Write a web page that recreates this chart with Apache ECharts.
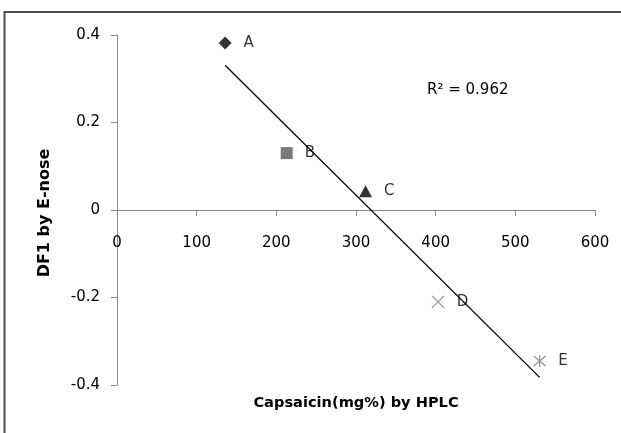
<!DOCTYPE html>
<html>
<head>
<meta charset="utf-8">
<script src="https://cdn.jsdelivr.net/npm/echarts@6/dist/echarts.min.js"></script>
<style>
  html, body { margin: 0; padding: 0; background: #ffffff; }
  #chart { width: 621px; height: 433px; }
</style>
</head>
<body>
<div id="chart"></div>
<script>
// Samples: capsaicin content (HPLC) vs. first discriminant score (E-nose)
const sampleNames = ['A', 'B', 'C', 'D', 'E'];
const capsaicin = [135.7, 213, 312, 403, 530.5];
const df1 = [0.382, 0.130, 0.043, -0.210, -0.345];
const xTicks = [0, 100, 200, 300, 400, 500, 600];
const yTicks = [-0.4, -0.2, 0, 0.2, 0.4];
const r2Text = 'R² = 0.962';

// marker style for each sample
const markerShapes = [
  'diamond',
  'rect',
  'triangle',
  'path://M0,0L10,10M10,0L0,10',
  'path://M0,0L10,10M10,0L0,10M5,-1L5,11'
];
const markerColors = ['#000000', '#595959', '#000000', '#7a7a7a', '#7a7a7a'];

// least-squares fit through the samples
function linearFit(xs, ys) {
  const n = xs.length;
  const mx = xs.reduce((a, b) => a + b, 0) / n;
  const my = ys.reduce((a, b) => a + b, 0) / n;
  let sxy = 0, sxx = 0;
  for (let i = 0; i < n; i++) {
    sxy += (xs[i] - mx) * (ys[i] - my);
    sxx += (xs[i] - mx) * (xs[i] - mx);
  }
  const slope = sxy / sxx;
  return { slope: slope, intercept: my - slope * mx };
}
const fit = linearFit(capsaicin, df1);
const xLo = Math.min.apply(null, capsaicin);
const xHi = Math.max.apply(null, capsaicin);
const trend = [
  [xLo, fit.intercept + fit.slope * xLo],
  [xHi, fit.intercept + fit.slope * xHi]
];

const font = 'DejaVu Sans';
const gridTop = 35, gridHeight = 350;
const yMin = yTicks[0], yMax = yTicks[yTicks.length - 1];
// shift the category axis up so it crosses the y axis at zero
const xAxisOffset = -gridHeight * (0 - yMin) / (yMax - yMin);

const sampleSeries = sampleNames.map(function (name, i) {
  const isStroke = i >= 3;
  return {
    type: 'scatter',
    name: name,
    data: [[capsaicin[i], df1[i]]],
    symbol: markerShapes[i],
    symbolSize: i === 0 ? 13 : (i === 2 ? [13, 12] : 12),
    itemStyle: isStroke
      ? { color: 'rgba(0,0,0,0)', borderColor: markerColors[i], borderWidth: 1.3 }
      : { color: markerColors[i] },
    label: {
      show: true,
      position: 'right',
      distance: 12,
      formatter: name,
      color: '#000',
      fontFamily: font,
      fontSize: 15
    },
    z: 3
  };
});

const chart = echarts.init(document.getElementById('chart'), null, { renderer: 'canvas' });
chart.setOption({
  animation: false,
  backgroundColor: '#ffffff',
  grid: { left: 117, top: gridTop, width: 478, height: gridHeight, containLabel: false },
  xAxis: {
    type: 'value',
    position: 'bottom',
    offset: xAxisOffset,
    min: xTicks[0], max: xTicks[xTicks.length - 1], interval: 100,
    axisLine: { onZero: false, lineStyle: { color: '#8a8a8a', width: 1 } },
    axisTick: { show: true, inside: false, length: 6, lineStyle: { color: '#8a8a8a' } },
    axisLabel: {
      margin: 26, color: '#000', fontFamily: font, fontSize: 15
    },
    splitLine: { show: false }
  },
  yAxis: {
    type: 'value',
    min: yMin, max: yMax, interval: 0.2,
    axisLine: { onZero: false, lineStyle: { color: '#8a8a8a', width: 1 } },
    axisTick: { show: true, inside: false, length: 6, lineStyle: { color: '#8a8a8a' } },
    axisLabel: {
      margin: 17, color: '#000', fontFamily: font, fontSize: 15,
      formatter: function (v) { return String(Math.round(v * 10) / 10); }
    },
    splitLine: { show: false }
  },
  series: [
    {
      type: 'line',
      data: trend,
      symbol: 'none',
      lineStyle: { color: '#000', width: 1.3 },
      z: 2,
      silent: true
    }
  ].concat(sampleSeries),
  graphic: [
    {
      type: 'rect',
      shape: { x: 4.5, y: 12, width: 640, height: 440 },
      style: { fill: 'none', stroke: '#4a4a4a', lineWidth: 2 },
      silent: true
    },
    {
      type: 'text',
      left: 427, top: 83,
      style: { text: r2Text, fill: '#000', font: '15px "DejaVu Sans"' }
    },
    {
      type: 'text',
      x: 356, y: 403,
      style: {
        text: 'Capsaicin(mg%) by HPLC', fill: '#000',
        font: 'bold 14.6px "DejaVu Sans"', align: 'center', verticalAlign: 'middle'
      }
    },
    {
      type: 'text',
      x: 45, y: 213,
      rotation: Math.PI / 2,
      style: {
        text: 'DF1 by E-nose', fill: '#000',
        font: 'bold 16px "DejaVu Sans"', align: 'center', verticalAlign: 'middle'
      }
    }
  ]
});
</script>
</body>
</html>
